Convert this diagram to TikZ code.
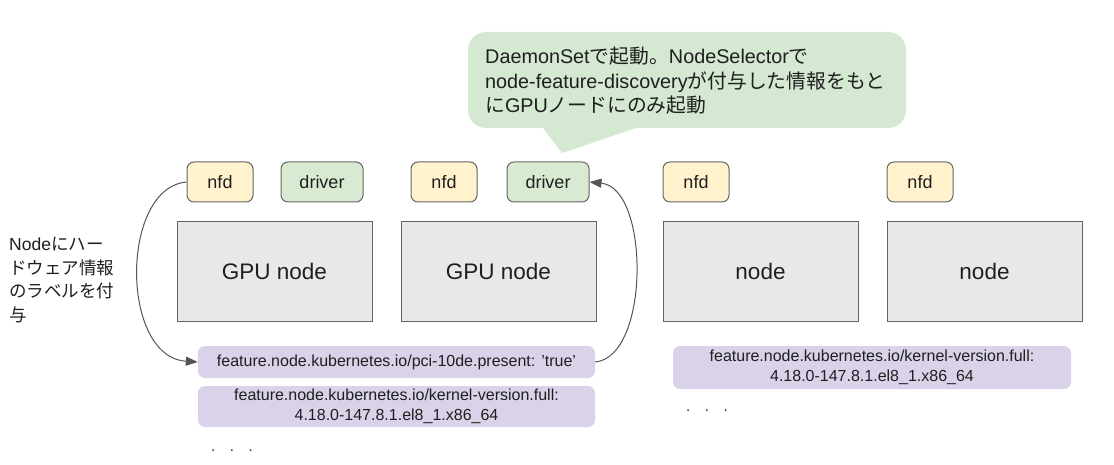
\documentclass[tikz,border=0pt]{standalone}
\usepackage{fontspec}
\setmainfont{Liberation Sans}
\newfontfamily\jp{Noto Sans CJK JP}
\usetikzlibrary{arrows.meta}
\definecolor{nfdfill}{HTML}{FFF2CC}
\definecolor{drvfill}{HTML}{D9EAD3}
\definecolor{nodefill}{HTML}{E8E8E8}
\definecolor{labfill}{HTML}{D9D2E9}
\definecolor{callfill}{HTML}{D4E8D2}
\definecolor{bordc}{HTML}{666666}
\definecolor{txtc}{HTML}{1F1F1F}
\definecolor{arrc}{HTML}{555555}
\begin{document}
\begin{tikzpicture}[x=1pt,y=-1pt,
  every node/.style={text=txtc},
  small/.style={draw=bordc,line width=1pt,rounded corners=7pt,minimum height=40pt,font=\fontsize{18}{21}\selectfont,inner sep=0pt},
  nfdbox/.style={small,fill=nfdfill,minimum width=66pt},
  drvbox/.style={small,fill=drvfill,minimum width=82pt},
  hostbox/.style={draw=bordc,line width=1pt,fill=nodefill,minimum width=195pt,minimum height=99pt,font=\fontsize{22.5}{26}\selectfont,inner sep=0pt},
  labbox/.style={fill=labfill,rounded corners=7pt,minimum width=397pt,align=center,font=\fontsize{16}{19.5}\selectfont,inner sep=0pt},
  conn/.style={draw=arrc,line width=1pt,-{Triangle[length=12pt,width=9pt]}}
]
\useasboundingbox[fill=white] (0,0) rectangle (1114,465);

% callout
\fill[callfill] (540,124) -- (648,124) -- (562,153) -- cycle;
\node[fill=callfill,rounded corners=18pt,minimum width=438pt,minimum height=96pt,inner sep=0pt] (call) at (687,80) {};
\node[anchor=west,align=left,font=\fontsize{19.8}{24.5}\selectfont,inner sep=0pt] (calltxt) at (485,81)
 {DaemonSet{\jp で起動。}NodeSelector{\jp で}\\node-feature-discovery{\jp が付与した情報をもと}\\{\jp に}GPU{\jp ノードにのみ起動}};

% small boxes
\node[nfdbox] (nfd1) at (220,182) {nfd};
\node[drvbox] (drv1) at (322,182) {driver};
\node[nfdbox] (nfd2) at (444,182) {nfd};
\node[drvbox] (drv2) at (548,182) {driver};
\node[nfdbox] (nfd3) at (696,182) {nfd};
\node[nfdbox] (nfd4) at (920,182) {nfd};

% host boxes
\node[hostbox] (h1) at (274.5,271.5) {GPU node};
\node[hostbox] (h2) at (498.5,271.5) {GPU node};
\node[hostbox] (h3) at (760.5,271.5) {node};
\node[hostbox] (h4) at (984.5,271.5) {node};

% labels
\node[labbox,minimum height=32pt] (lab1) at (396.5,362) {feature.node.kubernetes.io/pci-10de.present: \symbol{39}true\symbol{39}};
\node[labbox,minimum height=41pt] (lab2) at (396.5,406.5) {feature.node.kubernetes.io/kernel-version.full:\\4.18.0-147.8.1.el8\_1.x86\_64};
\node[labbox,minimum height=43pt,minimum width=398pt] (lab3) at (872,367.5) {feature.node.kubernetes.io/kernel-version.full:\\4.18.0-147.8.1.el8\_1.x86\_64};

% dots
\node[anchor=west,font=\fontsize{15}{17}\selectfont,inner sep=0pt] (dots1) at (211,451) {.\hspace{14.5pt}.\hspace{14.5pt}.};
\node[anchor=west,font=\fontsize{15}{17}\selectfont,inner sep=0pt] (dots2) at (686,411) {.\hspace{14.5pt}.\hspace{14.5pt}.};

% left text
\node[anchor=west,align=left,font=\fontsize{17.5}{23.5}\selectfont,inner sep=0pt] (lefttxt) at (9,280)
 {Node{\jp にハー}\\{\jp ドウェア情報}\\{\jp のラベルを付}\\{\jp 与}};

% connectors
\draw[conn] (nfd1.west) .. controls (120,188) and (120,357) .. (lab1.west);
\draw[conn] (lab1.east) .. controls (650,357) and (650,188) .. (drv2.east);
\end{tikzpicture}
\end{document}
